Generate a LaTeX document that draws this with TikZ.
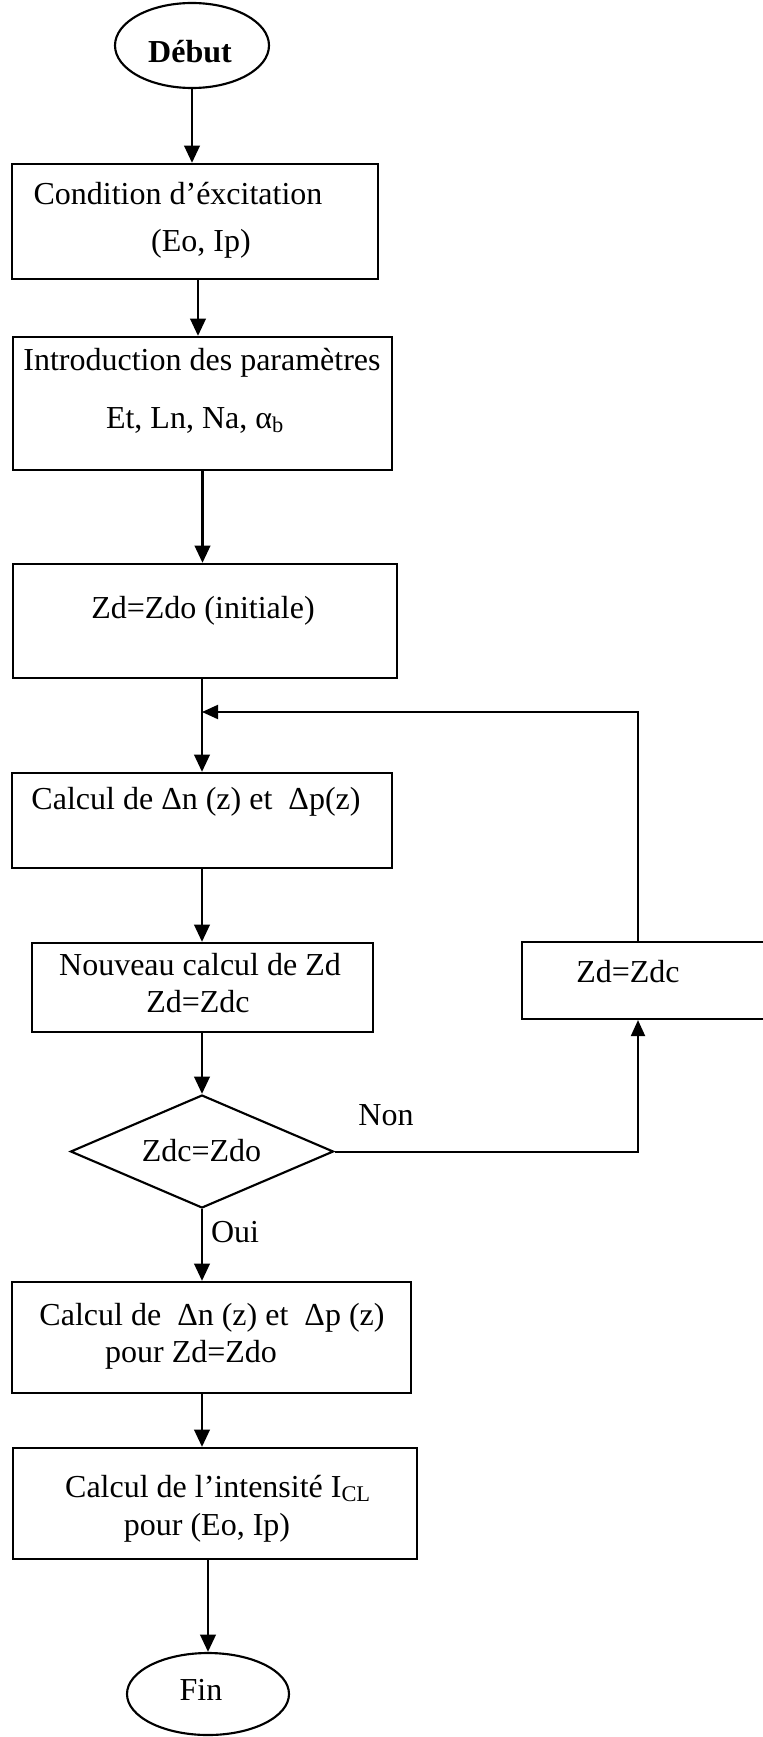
\documentclass[tikz,border=0pt]{standalone}
\usepackage{fontspec}
\setmainfont{Liberation Serif}
\usetikzlibrary{shapes.geometric,arrows.meta}
\tikzset{
  box/.style={draw, rectangle, line width=1.6pt, inner sep=0pt},
  oval/.style={draw, ellipse, line width=1.6pt, inner sep=0pt},
  decision/.style={draw, diamond, line width=1.6pt, inner sep=0pt},
  txt/.style={anchor=base, inner sep=0pt, font=\fontsize{24}{28}\selectfont},
  arr/.style={line width=2.2pt, -{Triangle[length=13pt,width=11.5pt]}},
  thinarr/.style={line width=1.5pt, -{Triangle[length=12pt,width=10.5pt]}}
}
\begin{document}
\begin{tikzpicture}[x=0.75pt,y=-0.75pt]
\useasboundingbox (0,0) rectangle (763,1737);
% shapes
\node[oval, minimum width=115.5pt, minimum height=63.75pt] (debut) at (192,45.5) {};
\node[box, minimum width=274.5pt, minimum height=86.25pt] (b1) at (195,221.5) {};
\node[box, minimum width=284.25pt, minimum height=99.75pt] (b2) at (202.5,403.5) {};
\node[box, minimum width=288pt, minimum height=85.5pt] (b3) at (205,621) {};
\node[box, minimum width=285pt, minimum height=71.25pt] (b4) at (202,820.5) {};
\node[box, minimum width=255.75pt, minimum height=66.75pt] (b5) at (202.5,987.5) {};
\node[decision, minimum width=197.25pt, minimum height=84.75pt] (dia) at (202,1151.5) {};
\node[box, minimum width=187.5pt, minimum height=57.75pt] (b6) at (647,980.5) {};
\node[box, minimum width=299.25pt, minimum height=83.25pt] (b7) at (211.5,1337.5) {};
\node[box, minimum width=303pt, minimum height=83.25pt] (b8) at (215,1503.5) {};
\node[oval, minimum width=121.5pt, minimum height=61.5pt] (fin) at (208,1694) {};
% texts
\node[txt, font=\fontsize{24}{28}\selectfont\bfseries] (tdebut) at (190,63) {Début};
\node[txt] (t1a) at (178,205) {Condition d’éxcitation};
\node[txt] (t1b) at (201,252) {(Eo, Ip)};
\node[txt] (t2a) at (202,370) {Introduction des paramètres};
\node[txt] (t2b) at (195,428) {Et, Ln, Na, α\textsubscript{b}};
\node[txt] (t3) at (203,618) {Zd=Zdo (initiale)};
\node[txt] (t4) at (196,809) {Calcul de Δn (z) et\ \ Δp(z)};
\node[txt] (t5a) at (200,975) {Nouveau calcul de Zd};
\node[txt] (t5b) at (198,1012) {Zd=Zdc};
\node[txt] (tdia) at (201.5,1161) {Zdc=Zdo};
\node[txt] (tnon) at (386,1125) {Non};
\node[txt] (t6) at (628,982) {Zd=Zdc};
\node[txt] (toui) at (235,1242) {Oui};
\node[txt] (t7a) at (212,1325) {Calcul de\ \ Δn (z) et\ \ Δp (z)};
\node[txt] (t7b) at (191,1362) {pour Zd=Zdo};
\node[txt] (t8a) at (218,1497) {Calcul de l’intensité I\textsubscript{CL}};
\node[txt] (t8b) at (207,1535) {pour (Eo, Ip)};
\node[txt] (tfin) at (201,1700) {Fin};
% loop coordinates
\coordinate (rt) at (638,712);
\coordinate (jn) at (202,712);
% connectors
\draw[arr] (debut.south) -- (debut.south |- b1.north);
\draw[arr] ([xshift=2.25pt]b1.south) -- ([xshift=2.25pt]b1.south |- b2.north);
\draw[arr] (b2.south) -- (b2.south |- b3.north);
\draw[arr] (b4.north |- b3.south) -- (b4.north);
\draw[arr] (b4.south) -- (b4.south |- b5.north);
\draw[arr] (dia.north |- b5.south) -- (dia.north);
\draw[arr] (dia.south) -- (dia.south |- b7.north);
\draw[thinarr] (dia.east) -| (rt |- b6.south);
\draw[thinarr] (rt |- b6.north) -- (rt) -- (jn);
\draw[arr] (dia.south |- b7.south) -- (dia.south |- b8.north);
\draw[arr] (fin.north |- b8.south) -- (fin.north);
\end{tikzpicture}
\end{document}
